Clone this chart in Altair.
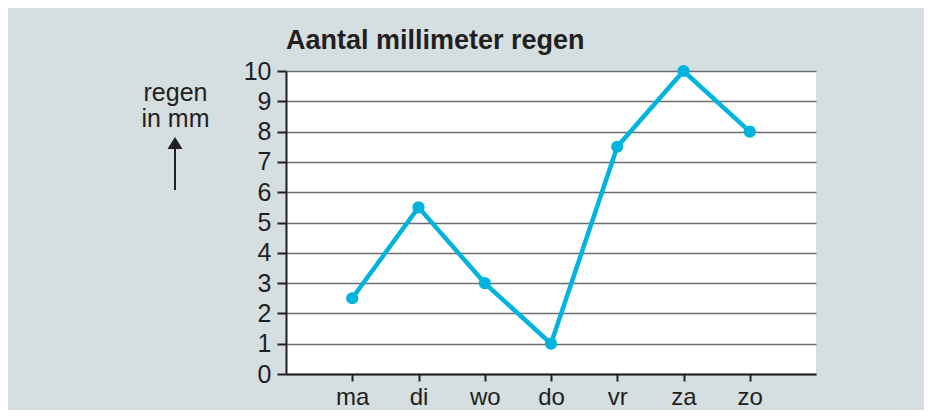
import altair as alt
import pandas as pd

days = ["ma", "di", "wo", "do", "vr", "za", "zo"]
rain_mm = [2.5, 5.5, 3, 1, 7.5, 10, 8]
y_ticks = list(range(0, 11))

df = pd.DataFrame({"dag": days, "regen": rain_mm})

FONT = "Liberation Sans"
INK = "#231f20"
CYAN = "#00b4dd"

x_enc = alt.X("dag:N", sort=days,
              scale=alt.Scale(type="point", padding=1),
              axis=alt.Axis(title=None, labelAngle=0, labelFontSize=24, labelFont=FONT,
                            labelColor=INK, tickSize=7, tickWidth=2, tickColor=INK,
                            domainColor=INK, domainWidth=2, labelPadding=4, grid=False))
y_enc = alt.Y("regen:Q",
              scale=alt.Scale(domain=[0, 10], nice=False, zero=True),
              axis=alt.Axis(values=y_ticks, labelOverlap=False, title=["regen", "in mm"], titleAngle=0,
                            titleX=-111, titleY=29, titleAlign="center",
                            titleBaseline="alphabetic", titleFontSize=25,
                            titleFontWeight="normal", titleFont=FONT, titleColor=INK,
                            titleLineHeight=26.5,
                            labelFontSize=25, labelFont=FONT, labelColor=INK,
                            labelPadding=6, tickSize=9, tickWidth=2, tickColor=INK,
                            domainColor=INK, domainWidth=2,
                            grid=True, gridColor="#6d6e71", gridWidth=1.5))

base = alt.Chart(df).encode(x=x_enc, y=y_enc)
line = base.mark_line(color=CYAN, strokeWidth=4.5)
points = base.mark_point(filled=True, color=CYAN, size=150, opacity=1)

arrow_data = alt.Data(values=[{"a": 1}])
shaft = alt.Chart(arrow_data).mark_rule(color=INK, strokeWidth=2).encode(
    x=alt.value(-111), y=alt.value(78), y2=alt.value(119))
head = alt.Chart(arrow_data).mark_point(
    shape="M0,-0.8L1,0.8L-1,0.8Z", filled=True, color=INK, size=225, opacity=1
).encode(x=alt.value(-111), y=alt.value(72))

chart = alt.layer(line, points, shaft, head).properties(
    width=530, height=303,
    title=alt.TitleParams("Aantal millimeter regen", anchor="start", frame="group",
                          fontSize=27, fontWeight="bold", font=FONT, color=INK, offset=4),
    autosize=alt.AutoSizeParams(type="none"),
    padding={"left": 278, "top": 63, "right": 108, "bottom": 36},
    background="#d5dee1",
).configure_view(fill="white", strokeWidth=0)

chart.save("out.html", embed_options={"renderer": "svg", "actions": False})
